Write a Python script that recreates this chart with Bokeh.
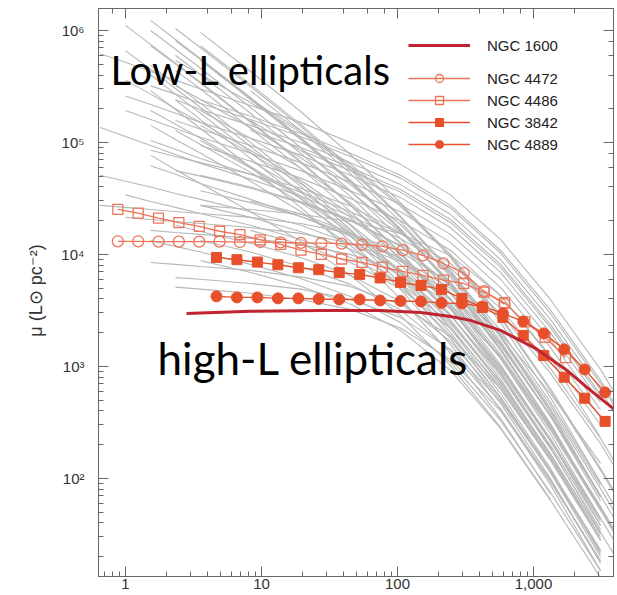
from bokeh.plotting import figure
from bokeh.models import (Range1d, LogAxis, Legend, LegendItem, Label,
                          CustomJSTickFormatter)
from bokeh.embed import file_html
from bokeh.resources import INLINE

N = None
# ---------------- data ----------------
# radii (pc) at which the grey comparison profiles were read
gray_R = [0.65, 1.0, 1.53, 2.33, 3.56, 8.3, 19.4, 45, 105, 245, 572, 1330, 3110, 5170]
# surface brightness (L_sun pc^-2) of each grey profile at gray_R (None = no data)
gray_mu = [
    [N, 1.11e6, 7.5e5, 5.1e5, 3.45e5, 1.54e5, 6.8e4, 2.8e4, 1.05e4, 3400, 900, 190, 33, 12],
    [N, N, 1.0e6, 6.8e5, 4.6e5, 2.05e5, 9.0e4, 3.7e4, 1.39e4, 4500, 1180, 250, 44, 16],
    [N, N, N, 1.04e6, 7.0e5, 3.16e5, 1.39e5, 5.7e4, 2.14e4, 6900, 1820, 390, 68, N],
    [N, N, N, 8.1e5, 5.5e5, 2.47e5, 1.09e5, 4.5e4, 1.67e4, 5400, 1420, 300, 53, 19],
    [N, N, 7.3e5, 5.0e5, 3.37e5, 1.51e5, 6.6e4, 2.74e4, 1.02e4, 3300, 870, 185, N, N],
    [N, N, N, N, 9.6e5, 4.3e5, 1.89e5, 7.8e4, 2.9e4, 9400, 2470, 530, 92, 33],
    [N, 6.6e5, 4.5e5, 3.03e5, 2.05e5, 9.2e4, 4.05e4, 1.67e4, 6200, 2000, 530, 113, 20, N],
    [N, N, 4.9e5, 3.3e5, 2.23e5, 1.0e5, 4.4e4, 1.82e4, 6800, 2180, 575, 123, 21, N],
    [N, N, N, 4.4e5, 3.0e5, 1.33e5, 5.9e4, 2.42e4, 9000, 2900, 770, 164, 28, N],
    [N, N, N, N, 5.4e5, 2.42e5, 1.06e5, 4.4e4, 1.64e4, 5300, 1390, 300, 52, 18.5],
    [N, N, N, 2.4e5, 1.6e5, 7.2e4, 3.16e4, 1.31e4, 4870, 1570, 413, 88, 15, N],
    [N, N, 2.9e5, 1.97e5, 1.33e5, 6.0e4, 2.63e4, 1.09e4, 4050, 1310, 344, 73, N, N],
    [N, N, 1.23e6, 8.3e5, 5.6e5, 2.52e5, 1.11e5, 4.6e4, 1.7e4, 5500, 1450, 310, 54, N],
    [N, N, N, N, 7.3e5, 3.3e5, 1.45e5, 6.0e4, 2.2e4, 7200, 1890, 405, 70, 25],
    [N, N, N, 6.0e5, 4.05e5, 1.82e5, 8.0e4, 3.3e4, 1.23e4, 3960, 1040, 220, 38, N],
    [N, N, 4.0e5, 2.7e5, 1.82e5, 8.15e4, 3.6e4, 1.48e4, 5500, 1780, 468, 100, 17.5, N],
    [N, N, N, N, N, 2.9e5, 1.28e5, 5.3e4, 1.97e4, 6300, 1680, 360, 63, N],
    [6.2e5, 5.2e5, 4.3e5, 3.6e5, 3.0e5, 2.14e5, 1.51e5, 1.0e5, 6.4e4, 3.4e4, 1.36e4, 3960, 940, 336],
    [N, N, 3.2e5, 2.7e5, 2.23e5, 1.6e5, 1.13e5, 7.5e4, 4.8e4, 2.6e4, 1.03e4, 2970, 705, 250],
    [1.36e5, 1.13e5, 9.4e4, 7.8e4, 6.5e4, 4.7e4, 3.3e4, 2.2e4, 1.39e4, 7500, 2970, 870, 205, 73],
    [N, 1.93e5, 1.6e5, 1.33e5, 1.11e5, 8.0e4, 5.6e4, 3.7e4, 2.4e4, 1.28e4, 5070, 1480, 350, N],
    [N, N, 1.04e5, 8.7e4, 7.2e4, 5.2e4, 3.6e4, 2.4e4, 1.54e4, 8300, 3300, 960, 228, 81],
    [N, N, N, 1.57e5, 1.31e5, 9.4e4, 6.6e4, 4.4e4, 2.8e4, 1.51e4, 6000, 1740, 410, N],
    [N, N, N, N, 2.4e5, 1.71e5, 1.2e5, 8.0e4, 5.1e4, 2.74e4, 1.09e4, 3200, 750, 270],
    [N, N, N, N, N, 1.28e5, 9.0e4, 6.0e4, 3.8e4, 2.05e4, 8150, 2370, 560, N],
    [N, N, 6.2e4, 5.2e4, 4.3e4, 3.1e4, 2.18e4, 1.45e4, 9200, 4970, 1970, 575, 136, N],
    [N, N, N, 2.4e5, 1.97e5, 1.42e5, 1.0e5, 6.6e4, 4.2e4, 2.28e4, 9000, 2630, 620, 220],
    [N, N, N, N, N, N, 8.5e4, 5.6e4, 3.6e4, 1.93e4, 7700, 2230, 530, N],
    [N, N, N, N, 9.4e4, 6.8e4, 4.8e4, 3.16e4, 2.0e4, 1.09e4, 4300, 1250, 300, N],
    [N, 2.6e5, 2.18e5, 1.82e5, 1.51e5, 1.09e5, 7.7e4, 5.1e4, 3.23e4, 1.74e4, 6900, 2000, 480, N],
    [N, 3.6e5, 2.7e5, 2.0e5, 1.51e5, 8.5e4, 4.6e4, 2.28e4, 1.0e4, 3580, 1000, 228, 44, N],
    [N, N, 1.93e5, 1.45e5, 1.09e5, 6.1e4, 3.3e4, 1.64e4, 7200, 2600, 720, 164, 32, N],
    [N, N, N, 5.4e5, 4.05e5, 2.27e5, 1.23e5, 6.1e4, 2.7e4, 9600, 2700, 610, 118, 42],
    [N, N, N, 3.2e5, 2.42e5, 1.36e5, 7.3e4, 3.65e4, 1.6e4, 5700, 1600, 365, 70, N],
    [N, N, N, N, 1.93e5, 1.09e5, 5.9e4, 2.9e4, 1.28e4, 4600, 1280, 290, 56, 20],
    [N, N, 7.7e4, 5.7e4, 4.3e4, 2.4e4, 1.31e4, 6500, 2850, 1020, 285, 65, N, N],
    [N, N, N, N, N, 2.4e5, 1.28e5, 6.4e4, 2.8e4, 1.0e4, 2800, 635, 123, 44],
    [N, N, N, N, 1.04e5, 5.9e4, 3.16e4, 1.57e4, 6900, 2500, 690, 157, 30, N],
    [N, N, N, 1.28e5, 9.6e4, 5.4e4, 2.9e4, 1.45e4, 6370, 2280, 630, 145, 28, N],
    [N, N, N, N, N, 1.57e5, 8.5e4, 4.2e4, 1.85e4, 6600, 1850, 420, 81, 29],
    [N, N, 1.42e5, 1.06e5, 8.0e4, 4.5e4, 2.42e4, 1.2e4, 5300, 1890, 530, 120, 23, N],
    [N, N, N, N, 1.42e5, 8.0e4, 4.3e4, 2.14e4, 9400, 3400, 940, 215, 41, N],
    [N, N, N, N, N, 6.9e4, 3.7e4, 1.85e4, 8150, 2900, 830, 185, 35, N],
    [5.1e4, 4.5e4, 4.0e4, 3.5e4, 3.1e4, 2.4e4, 1.82e4, 1.25e4, 7350, 3230, 980, 220, 43, N],
    [N, 3.4e4, 2.97e4, 2.63e4, 2.32e4, 1.82e4, 1.36e4, 9400, 5500, 2420, 735, 167, 32, N],
    [N, N, 1.33e4, 1.18e4, 1.05e4, 8150, 6100, 4200, 2470, 1090, 330, 75, 15, N],
    [N, N, N, N, 1.33e4, 1.05e4, 7800, 5400, 3200, 1390, 420, 96, 18.5, N],
    [N, N, N, 1.82e4, 1.6e4, 1.26e4, 9400, 6500, 3800, 1670, 510, 115, 22, N],
    [N, N, 8.5e4, 7.5e4, 6.6e4, 5.2e4, 3.9e4, 2.7e4, 1.57e4, 6900, 2100, 480, 92, N],
    [N, N, N, N, 5.1e4, 4.0e4, 2.97e4, 2.05e4, 1.2e4, 5300, 1600, 365, 70, N],
    [N, N, N, N, N, 3.0e4, 2.3e4, 1.57e4, 9200, 4050, 1230, 280, 54, 19],
    [N, N, N, N, 2.74e4, 2.14e4, 1.6e4, 1.11e4, 6500, 2850, 870, 197, 38, N],
    [N, N, N, 5.6e4, 5.0e4, 3.9e4, 2.9e4, 2.0e4, 1.18e4, 5200, 1580, 360, 69, N],
    [N, N, N, N, 3.7e4, 2.9e4, 2.18e4, 1.51e4, 8800, 3900, 1180, 270, 52, N],
    [N, N, N, N, N, 1.64e4, 1.23e4, 8480, 4970, 2180, 663, 151, 28, N],
    [N, N, N, N, 8800, 6900, 5200, 3600, 2100, 920, 279, 64, 13, N],
    [2.74e4, 2.63e4, 2.52e4, 2.42e4, 2.32e4, 2.14e4, 1.89e4, 1.54e4, 1.06e4, 5500, 1890, 450, 87, N],
    [N, 2.14e4, 2.05e4, 1.97e4, 1.89e4, 1.74e4, 1.54e4, 1.26e4, 8660, 4500, 1540, 365, 70, N],
    [N, N, 8480, 8150, 7800, 7200, 6300, 5180, 3580, 1850, 630, 151, 28, N],
    [N, N, N, 6200, 6000, 5500, 4900, 3960, 2740, 1420, 490, 115, 22, N],
    [N, N, N, 5100, 4900, 4500, 3960, 3230, 2200, 1150, 400, 94, 18, N],
    [N, N, 1.64e4, 1.57e4, 1.51e4, 1.39e4, 1.23e4, 1.0e4, 6900, 3600, 1220, 290, 56, N],
    [N, N, N, N, 2.74e4, 2.52e4, 2.28e4, 1.97e4, 1.54e4, 9800, 4300, 1200, 232, N],
]

R_4472 = [0.878, 1.239, 1.748, 2.468, 3.483, 4.916, 6.937, 9.79, 13.82, 19.5, 27.53, 38.85,
          54.8, 77.4, 109.2, 154.1, 217.6, 307, 433, 612]
mu_4472 = [13100, 13100, 13000, 13000, 13000, 13000, 12900, 12900, 12800, 12700, 12600, 12500,
           12200, 11800, 10900, 9800, 8300, 6800, 4700, 3600]

R_4486 = [0.878, 1.239, 1.748, 2.468, 3.483, 4.916, 6.937, 9.79, 13.82, 19.5, 27.53, 38.85,
          54.8, 77.4, 109.2, 154.1, 217.6, 307, 433, 612, 863, 1218, 1719]
mu_4486 = [25200, 23400, 21100, 19200, 17800, 16100, 15000, 13500, 12300, 10900, 10000, 9100,
           8500, 7700, 7050, 6500, 5900, 5500, 4600, 3700, 2500, 1820, 1200]

R_3842 = [4.667, 6.597, 9.328, 13.19, 18.65, 26.36, 37.27, 52.7, 74.5, 105.3, 148.9, 210.6,
          297.7, 421, 595, 841, 1189, 1682, 2378, 3362]
mu_3842 = [9400, 8970, 8540, 8090, 7600, 7300, 6870, 6630, 6160, 5620, 5280, 4870,
           4050, 3360, 2740, 1890, 1250, 800, 520, 323]

R_4889 = [4.667, 6.597, 9.328, 13.19, 18.65, 26.36, 37.27, 52.7, 74.5, 105.3, 148.9, 210.6,
          297.7, 421, 595, 841, 1189, 1682, 2378, 3362]
mu_4889 = [4220, 4130, 4130, 4050, 4050, 4000, 3960, 3960, 3880, 3840, 3800, 3690,
           3650, 3430, 2970, 2520, 1970, 1420, 940, 586]

R_1600 = [2.81, 8.3, 27.2, 75, 148, 245, 344, 572, 1035, 1808, 2625, 4010]
mu_1600 = [2970, 3100, 3160, 3160, 3030, 2790, 2575, 2095, 1450, 900, 610, 405]

legend_labels = ["NGC 1600", "NGC 4472", "NGC 4486", "NGC 3842", "NGC 4889"]

# ---------------- styles ----------------
GRAY = "#b6b9b8"
SALMON = "#ec7459"
ORANGE = "#e8502c"
DARKRED = "#c1232f"
AXIS = "#666666"
TXT = "#333333"

p = figure(width=617, height=595, x_axis_type="log", y_axis_type="log",
           x_range=Range1d(0.633, 3874), y_range=Range1d(13.3, 1.57e6),
           output_backend="svg", toolbar_location=None,
           min_border_left=98, min_border_right=4, min_border_top=8, min_border_bottom=19)
p.grid.visible = False
p.outline_line_color = AXIS
p.background_fill_color = "white"
p.border_fill_color = "white"

# grey comparison profiles
xs, ys = [], []
for row in gray_mu:
    rr = [r for r, m in zip(gray_R, row) if m is not None]
    mm = [m for m in row if m is not None]
    xs.append(rr)
    ys.append(mm)
p.multi_line(xs, ys, line_color=GRAY, line_width=1.1)

# named galaxies
l4472 = p.line(R_4472, mu_4472, line_color=SALMON, line_width=1.3)
s4472 = p.scatter(R_4472, mu_4472, marker="circle", size=11, line_color=SALMON,
                  fill_color=None, line_width=1.3)
l4486 = p.line(R_4486, mu_4486, line_color=SALMON, line_width=1.3)
s4486 = p.scatter(R_4486, mu_4486, marker="square", size=10, line_color=SALMON,
                  fill_color=None, line_width=1.3)
l3842 = p.line(R_3842, mu_3842, line_color=ORANGE, line_width=1.4)
s3842 = p.scatter(R_3842, mu_3842, marker="square", size=10, line_color=ORANGE,
                  fill_color=ORANGE)
l4889 = p.line(R_4889, mu_4889, line_color=ORANGE, line_width=1.4)
s4889 = p.scatter(R_4889, mu_4889, marker="circle", size=11, line_color=ORANGE,
                  fill_color=ORANGE)
l1600 = p.line(R_1600, mu_1600, line_color=DARKRED, line_width=3)

# axes
def style_axis(ax):
    ax.axis_line_color = AXIS
    ax.major_tick_line_color = AXIS
    ax.minor_tick_line_color = AXIS
    ax.major_tick_in = 10
    ax.major_tick_out = 0
    ax.minor_tick_in = 5
    ax.minor_tick_out = 0
    ax.major_label_text_font = "Liberation Sans"
    ax.major_label_text_font_size = "15px"
    ax.major_label_text_color = TXT

for ax in p.xaxis:
    style_axis(ax)
    ax.major_label_standoff = 2
    ax.formatter = CustomJSTickFormatter(code="""
        const v = Math.round(tick);
        return v >= 1000 ? v.toLocaleString('en-US') : String(v);
    """)
for ax in p.yaxis:
    style_axis(ax)
    ax.major_label_standoff = 14
    ax.formatter = CustomJSTickFormatter(code="""
        const sup = {"0":"\u2070","1":"\u00b9","2":"\u00b2","3":"\u00b3","4":"\u2074",
                     "5":"\u2075","6":"\u2076","7":"\u2077","8":"\u2078","9":"\u2079"};
        const e = Math.round(Math.log10(tick));
        return "10" + String(e).split("").map(c => sup[c]).join("");
    """)
    ax.axis_label = "\u03bc (L\u2299 pc\u207b\u00b2)"
    ax.axis_label_text_font = "Liberation Sans"
    ax.axis_label_text_font_style = "normal"
    ax.axis_label_text_font_size = "18px"
    ax.axis_label_text_color = TXT
    ax.axis_label_standoff = 12

# frame axes without labels on top and right
top = LogAxis()
style_axis(top)
top.major_label_text_font_size = "1px"
top.major_label_text_alpha = 0
top.major_label_standoff = 0
p.add_layout(top, "above")
right = LogAxis()
style_axis(right)
right.major_label_text_font_size = "1px"
right.major_label_text_alpha = 0
right.major_label_standoff = 0
p.add_layout(right, "right")

# legends
def make_legend(items, loc):
    lg = Legend(items=items, location=loc)
    lg.glyph_width = 62
    lg.glyph_height = 20
    lg.label_height = 20
    lg.spacing = 2
    lg.padding = 0
    lg.margin = 0
    lg.label_standoff = 17
    lg.label_text_font = "Liberation Sans"
    lg.label_text_font_size = "15px"
    lg.label_text_color = "#222222"
    lg.border_line_color = None
    lg.background_fill_alpha = 0
    return lg

leg1 = make_legend([LegendItem(label=legend_labels[0], renderers=[l1600])], (310, 521))
leg2 = make_legend([
    LegendItem(label=legend_labels[1], renderers=[l4472, s4472]),
    LegendItem(label=legend_labels[2], renderers=[l4486, s4486]),
    LegendItem(label=legend_labels[3], renderers=[l3842, s3842]),
    LegendItem(label=legend_labels[4], renderers=[l4889, s4889]),
], (310, 422))
p.add_layout(leg1)
p.add_layout(leg2)

# annotations
p.add_layout(Label(x=0.776, y=4.4e5, text="Low-L ellipticals", text_font="Lato",
                   text_font_size="40px", text_color="black",
                   text_align="left", text_baseline="alphabetic"))
p.add_layout(Label(x=1.72, y=1200, text="high-L ellipticals", text_font="Lato",
                   text_font_size="44px", text_color="black",
                   text_align="left", text_baseline="alphabetic"))

open("out.html", "w").write(file_html(p, INLINE))
